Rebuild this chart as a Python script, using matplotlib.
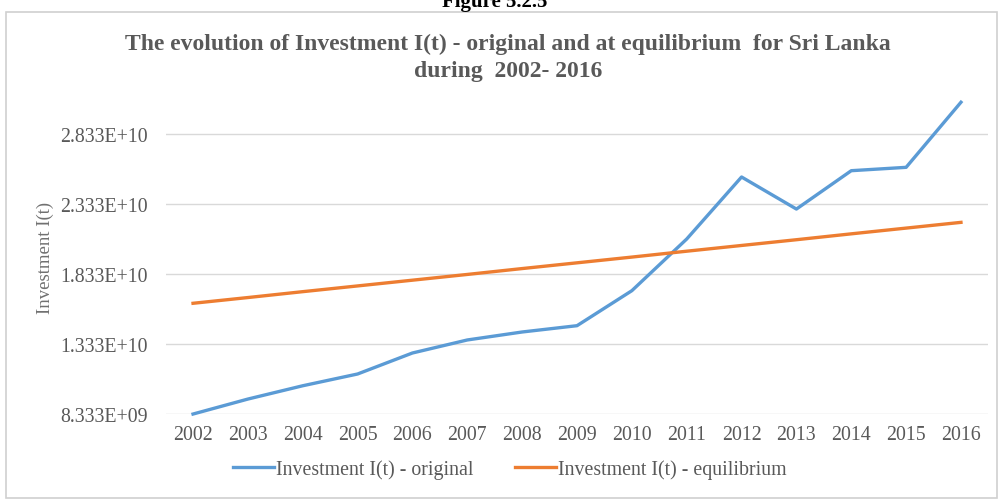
import matplotlib
matplotlib.use("Agg")
import matplotlib.pyplot as plt
from matplotlib.patches import Rectangle

years = ["2002", "2003", "2004", "2005", "2006", "2007", "2008", "2009",
         "2010", "2011", "2012", "2013", "2014", "2015", "2016"]
original = [8.33e9, 9.40e9, 1.035e10, 1.119e10, 1.269e10, 1.362e10, 1.419e10, 1.464e10,
            1.714e10, 2.083e10, 2.526e10, 2.297e10, 2.571e10, 2.595e10, 3.06e10]
equilibrium = [1.624e10, 1.665e10, 1.707e10, 1.748e10, 1.789e10, 1.830e10, 1.872e10, 1.913e10,
               1.954e10, 1.996e10, 2.037e10, 2.078e10, 2.120e10, 2.161e10, 2.202e10]
ytick_vals = [8.333e9, 1.333e10, 1.833e10, 2.333e10, 2.833e10]
ytick_labels = ["8.333E+09", "1.333E+10", "1.833E+10", "2.333E+10", "2.833E+10"]

plt.rcParams['font.family'] = ['Liberation Serif', 'DejaVu Serif']
gray = "#595959"

W, H = 998, 502
fig = plt.figure(figsize=(W / 100, H / 100), dpi=100)

# chart border
fig.patches.append(Rectangle((6 / W, 3 / H), 991 / W, 486 / H, transform=fig.transFigure,
                             fill=False, edgecolor="#d0d0d0", linewidth=1.2))

ax = fig.add_axes([165.6 / W, (H - 415) / H, 822.8 / W, 350 / H])
x = range(len(years))
ax.plot(x, original, color="#5B9BD5", linewidth=2.4, label="Investment I(t) - original",
        clip_on=False, solid_joinstyle="round")
ax.plot(x, equilibrium, color="#ED7D31", linewidth=2.4, label="Investment I(t) - equilibrium",
        clip_on=False)

ax.set_xlim(-0.5, len(years) - 0.5)
ax.set_ylim(8.333e9, 3.333e10)
ax.set_xticks(list(x))
ax.set_xticklabels(years)
ax.set_yticks(ytick_vals)
ax.set_yticklabels(ytick_labels)
ax.tick_params(axis="both", length=0, colors=gray, labelsize=14.3)
ax.tick_params(axis="y", pad=13)
ax.tick_params(axis="x", pad=8)
ax.grid(axis="y", color="#d9d9d9", linewidth=1)
ax.set_axisbelow(True)
for s in ax.spines.values():
    s.set_visible(False)

fig.text(508 / W, 1 - 44 / H,
         "The evolution of Investment I(t) - original and at equilibrium  for Sri Lanka",
         ha="center", va="center", fontsize=17, fontweight="bold", color=gray)
fig.text(508 / W, 1 - 71 / H, "during  2002- 2016",
         ha="center", va="center", fontsize=17, fontweight="bold", color=gray)
fig.text(495 / W, 1 - 7 / H, "Figure 5.2.5", ha="center", va="baseline",
         fontsize=15, fontweight="bold", color="black")
fig.text(45 / W, 1 - 258 / H, "Investment I(t)", rotation=90, ha="center", va="center",
         fontsize=13.5, color="#707070")

leg = fig.legend(loc="center", bbox_to_anchor=(510 / W, 1 - 470 / H), ncol=2, frameon=False,
                 fontsize=14.3, handlelength=2.05, handletextpad=0.1, columnspacing=2.1)
for t in leg.get_texts():
    t.set_color(gray)

fig.savefig("out.png", dpi=100)
